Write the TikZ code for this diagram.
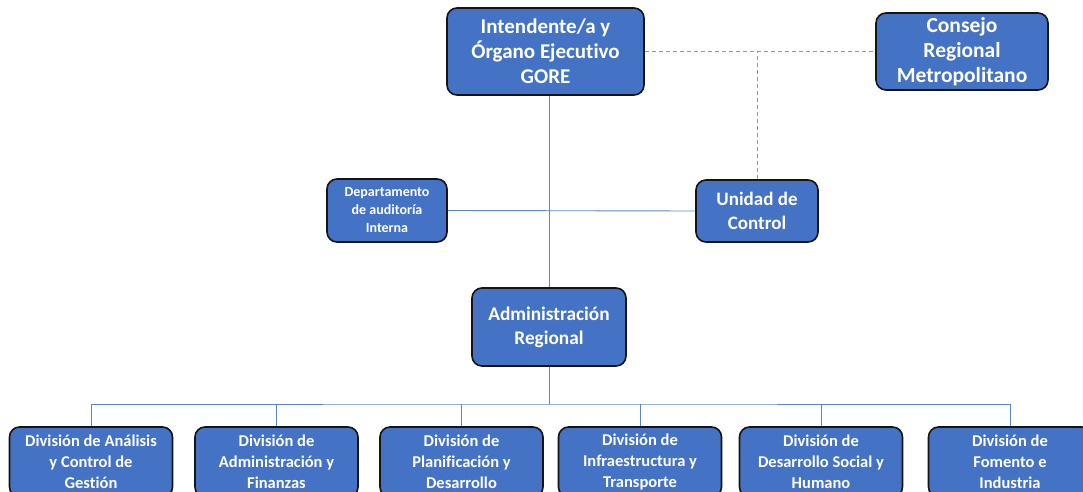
\documentclass[tikz,border=0pt]{standalone}
\usepackage{fontspec}
\setmainfont{Carlito}[Ligatures={NoCommon}]
\definecolor{boxblue}{HTML}{4472C4}
\definecolor{boxedge}{HTML}{141414}
\definecolor{linkblue}{HTML}{5B87C8}
\definecolor{dashblue}{HTML}{8898C4}
\begin{document}
\begin{tikzpicture}[x=1pt,y=-1pt,
  box/.style={draw=boxedge, line width=1.6pt, fill=boxblue, rounded corners=10pt,
    text=white, align=center, inner sep=0pt, font=\bfseries},
  link/.style={draw=linkblue, line width=0.9pt},
  dlink/.style={draw=dashblue, line width=0.9pt, dash pattern=on 4pt off 3pt}]
\useasboundingbox (0,0) rectangle (1083,492);
\clip (0,0) rectangle (1083,492);
% top level
\node[box, minimum width=197pt, minimum height=87pt, font=\bfseries\fontsize{21}{25}\selectfont] (int) at (545.5,51.5) {Intendente/a y\\Órgano Ejecutivo\\GORE};
\node[box, minimum width=172pt, minimum height=77pt, font=\bfseries\fontsize{21.5}{25}\selectfont] (cons) at (962,51.5) {Consejo\\Regional\\Metropolitano};
% middle
\node[box, minimum width=120pt, minimum height=63pt, font=\bfseries\fontsize{14}{18}\selectfont] (dep) at (387,210.5) {Departamento\\de auditoría\\Interna};
\node[box, minimum width=122pt, minimum height=62pt, font=\bfseries\fontsize{19}{24}\selectfont] (uni) at (757,211) {Unidad de\\Control};
\node[box, minimum width=154pt, minimum height=78pt, font=\bfseries\fontsize{19.3}{24}\selectfont] (adm) at (549,327) {Administración\\Regional};
% divisions
\tikzset{div/.style={box, minimum width=163pt, minimum height=70pt, font=\bfseries\fontsize{16.5}{21}\selectfont}}
\node[div] (d1) at (91,462) {División de Análisis\\y Control de\\Gestión};
\node[div] (d2) at (276.5,462) {División de\\Administración y\\Finanzas};
\node[div] (d3) at (461.5,462) {División de\\Planificación y\\Desarrollo};
\node[div] (d4) at (640,462) {División de\\Infraestructura y\\Transporte};
\node[div] (d5) at (821,462) {División de\\Desarrollo Social y\\Humano};
\node[div] (d6) at (1010,462) {División de\\Fomento e\\Industria};
% connectors
\draw[link] (adm.north) -- (adm.north |- int.south);
\draw[link] (dep.east) -- (uni.west);
\draw[dlink] (int.east) -- (cons.west);
\draw[dlink] (uni.north) -- (uni.north |- int.east);
\coordinate (bus) at (549,404);
\draw[link] (adm.south) -- (bus);
\draw[link] (d1.north) |- (bus) -| (d6.north);
\foreach \d in {d2,d3,d4,d5} \draw[link] (\d.north) -- (\d.north |- bus);
\end{tikzpicture}
\end{document}
